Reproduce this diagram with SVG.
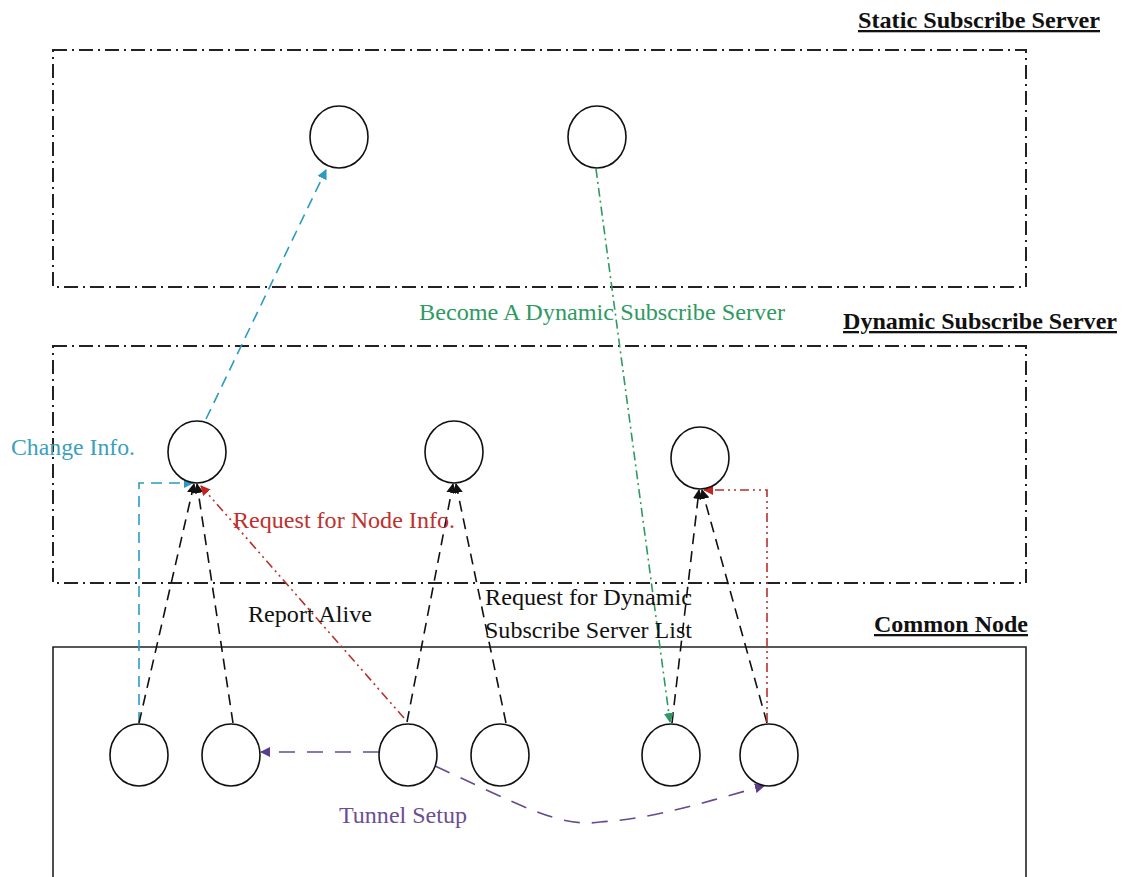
<svg xmlns="http://www.w3.org/2000/svg" width="1126" height="877" viewBox="0 0 1126 877">
  <style>
    .zone { fill: none; stroke: #222; stroke-width: 2; stroke-dasharray: 14 5 2 5; }
    .solidzone { fill: none; stroke: #222; stroke-width: 1.6; }
    .node { fill: #fff; stroke: #111; stroke-width: 1.6; }
    .title { font-family: "Liberation Serif", "Times New Roman", serif; font-weight: bold; font-size: 23px; text-decoration: underline; fill: #111; }
    .lbl { font-family: "Liberation Serif", "Times New Roman", serif; font-size: 23px; }
    .c { fill: none; stroke-width: 1.6; }
    .blk { stroke: #111; stroke-dasharray: 11 7; }
    .blu { stroke: #2b9bc3; stroke-dasharray: 11 7; }
    .red { stroke: #b8302c; stroke-dasharray: 9 4 2 4 2 4; }
    .grn { stroke: #2e9a62; stroke-dasharray: 9 4 2 4; }
    .pur { stroke: #664a92; stroke-dasharray: 16 12; }
  </style>
  <defs>
    <marker id="ah-blk" viewBox="0 0 10 10" refX="9" refY="5" markerWidth="10" markerHeight="10" markerUnits="userSpaceOnUse" orient="auto"><path d="M0,0 L10,5 L0,10 Z" fill="#111"/></marker>
    <marker id="ah-blu" viewBox="0 0 10 10" refX="9" refY="5" markerWidth="10" markerHeight="10" markerUnits="userSpaceOnUse" orient="auto"><path d="M0,0 L10,5 L0,10 Z" fill="#2b9bc3"/></marker>
    <marker id="ah-red" viewBox="0 0 10 10" refX="9" refY="5" markerWidth="10" markerHeight="10" markerUnits="userSpaceOnUse" orient="auto"><path d="M0,0 L10,5 L0,10 Z" fill="#c8221e"/></marker>
    <marker id="ah-grn" viewBox="0 0 10 10" refX="9" refY="5" markerWidth="10" markerHeight="10" markerUnits="userSpaceOnUse" orient="auto"><path d="M0,0 L10,5 L0,10 Z" fill="#2e9a62"/></marker>
    <marker id="ah-pur" viewBox="0 0 10 10" refX="9" refY="5" markerWidth="10" markerHeight="10" markerUnits="userSpaceOnUse" orient="auto"><path d="M0,0 L10,5 L0,10 Z" fill="#5a3e8c"/></marker>
  </defs>

  <rect width="1126" height="877" fill="#fff"/>

  <!-- tiers -->
  <g id="tier-static">
    <rect class="zone" x="53" y="50" width="973" height="237"/>
    <text class="title" x="858" y="28" textLength="242" lengthAdjust="spacingAndGlyphs">Static Subscribe Server</text>
  </g>
  <g id="tier-dynamic">
    <rect class="zone" x="53" y="346" width="973" height="237"/>
    <text class="title" x="843" y="329" textLength="274" lengthAdjust="spacingAndGlyphs">Dynamic Subscribe Server</text>
  </g>
  <g id="tier-common">
    <path class="solidzone" d="M53,890 V647 H1026 V890"/>
    <text class="title" x="874" y="632" textLength="154" lengthAdjust="spacingAndGlyphs">Common Node</text>
  </g>

  <!-- connectors -->
  <g id="connectors">
    <!-- Change Info. -->
    <line class="c blu" x1="206" y1="419" x2="326" y2="170" marker-end="url(#ah-blu)"/>
    <polyline class="c blu" points="139,723 139,483 193,483" marker-end="url(#ah-blu)"/>
    <!-- Report Alive -->
    <line class="c blk" x1="139" y1="723" x2="194" y2="484" marker-end="url(#ah-blk)"/>
    <line class="c blk" x1="233" y1="723" x2="197" y2="484" marker-end="url(#ah-blk)"/>
    <line class="c blk" x1="407" y1="722" x2="453" y2="484" marker-end="url(#ah-blk)"/>
    <line class="c blk" x1="506" y1="723" x2="456" y2="484" marker-end="url(#ah-blk)"/>
    <line class="c blk" x1="672" y1="723" x2="699" y2="490" marker-end="url(#ah-blk)"/>
    <line class="c blk" x1="767" y1="723" x2="702" y2="490" marker-end="url(#ah-blk)"/>
    <!-- Request for Node Info. -->
    <line class="c red" x1="404" y1="718" x2="201" y2="486" marker-end="url(#ah-red)"/>
    <polyline class="c red" points="767,722 767,490 704,490" marker-end="url(#ah-red)"/>
    <!-- Become A Dynamic Subscribe Server -->
    <line class="c grn" x1="596" y1="169" x2="670" y2="722" marker-end="url(#ah-grn)"/>
    <!-- Tunnel Setup -->
    <line class="c pur" x1="379" y1="752" x2="261" y2="752" marker-end="url(#ah-pur)"/>
    <path class="c pur" d="M435,766 C520,805 560,828 600,822 C660,818 710,800 764,786" marker-end="url(#ah-pur)"/>
  </g>

  <!-- static subscribe servers -->
  <g id="node-s1"><ellipse class="node" cx="339" cy="137" rx="29" ry="31"/></g>
  <g id="node-s2"><ellipse class="node" cx="597" cy="137" rx="29" ry="31"/></g>

  <!-- dynamic subscribe servers -->
  <g id="node-d1"><ellipse class="node" cx="197" cy="452" rx="29" ry="31"/></g>
  <g id="node-d2"><ellipse class="node" cx="454" cy="452" rx="29" ry="31"/></g>
  <g id="node-d3"><ellipse class="node" cx="700" cy="458" rx="29" ry="31"/></g>

  <!-- common nodes -->
  <g id="node-c1"><ellipse class="node" cx="139" cy="755" rx="29" ry="31"/></g>
  <g id="node-c2"><ellipse class="node" cx="231" cy="755" rx="29" ry="31"/></g>
  <g id="node-c3"><ellipse class="node" cx="408" cy="755" rx="29" ry="31"/></g>
  <g id="node-c4"><ellipse class="node" cx="500" cy="755" rx="29" ry="31"/></g>
  <g id="node-c5"><ellipse class="node" cx="671" cy="755" rx="29" ry="31"/></g>
  <g id="node-c6"><ellipse class="node" cx="769" cy="755" rx="29" ry="31"/></g>

  <!-- labels -->
  <g id="labels">
    <text class="lbl" x="419" y="320" fill="#2e9a62" textLength="366" lengthAdjust="spacingAndGlyphs">Become A Dynamic Subscribe Server</text>
    <text class="lbl" x="11" y="455" fill="#3a9fc0" textLength="124" lengthAdjust="spacingAndGlyphs">Change Info.</text>
    <text class="lbl" x="233" y="528" fill="#c0302c" textLength="222" lengthAdjust="spacingAndGlyphs">Request for Node Info.</text>
    <text class="lbl" x="248" y="622" fill="#111" textLength="124" lengthAdjust="spacingAndGlyphs">Report Alive</text>
    <text class="lbl" x="485" y="605" fill="#111" textLength="207" lengthAdjust="spacingAndGlyphs">Request for Dynamic</text>
    <text class="lbl" x="485" y="638" fill="#111" textLength="207" lengthAdjust="spacingAndGlyphs">Subscribe Server List</text>
    <text class="lbl" x="339" y="823" fill="#6a4e94" textLength="128" lengthAdjust="spacingAndGlyphs">Tunnel Setup</text>
  </g>
</svg>
